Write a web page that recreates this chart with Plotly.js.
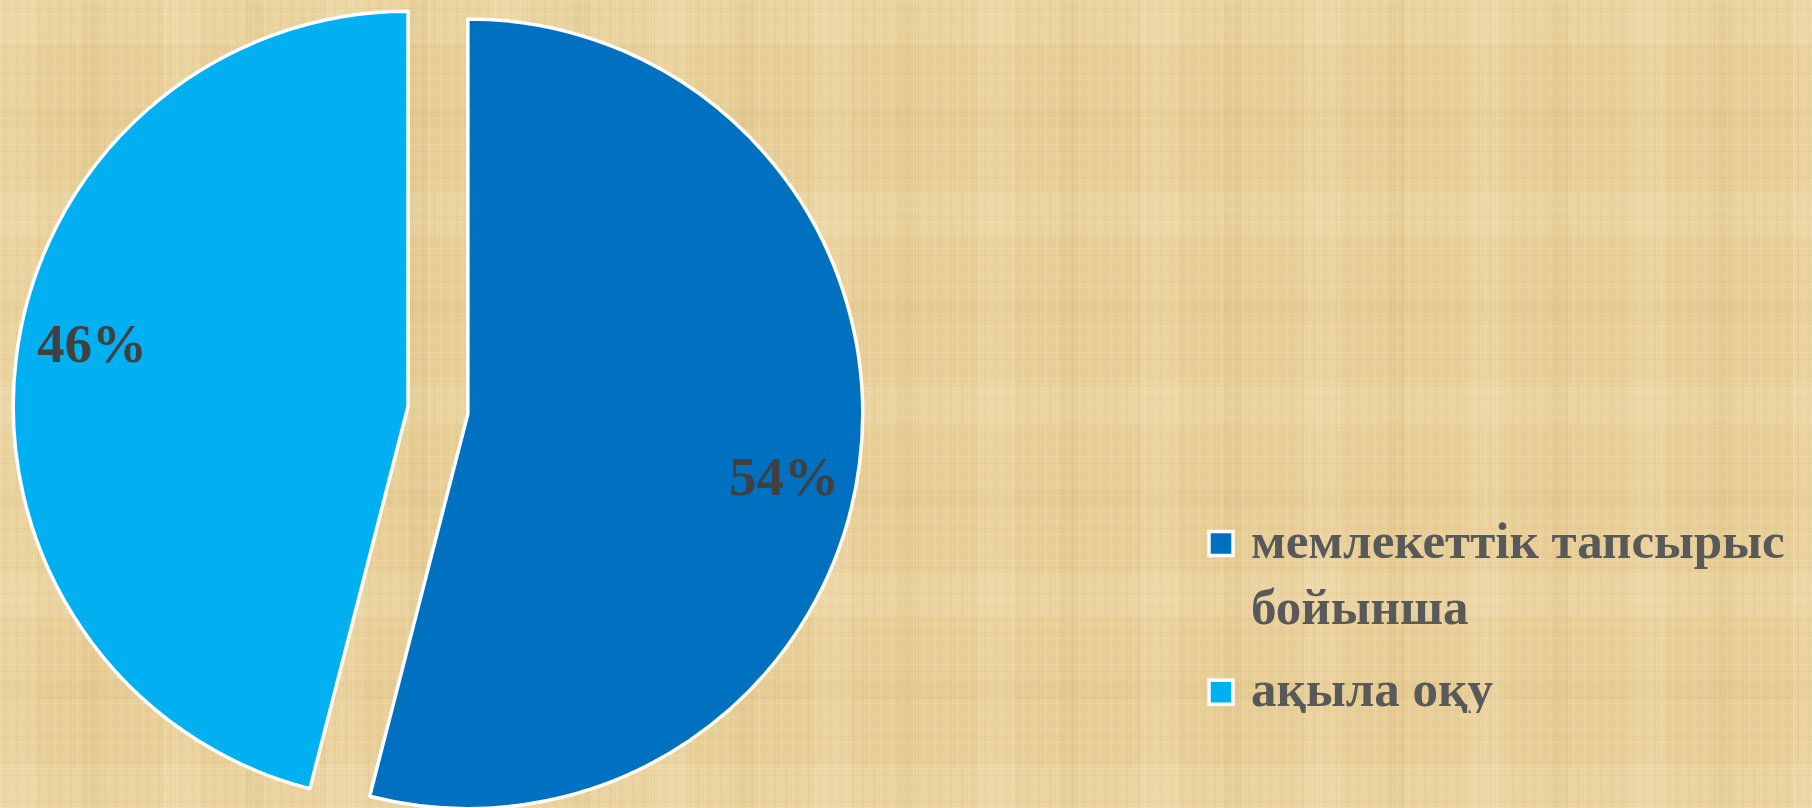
<!DOCTYPE html>
<html>
<head>
<meta charset="utf-8">
<script src="https://cdn.plot.ly/plotly-3.0.1.min.js"></script>
<style>
  html, body { margin: 0; padding: 0; width: 1812px; height: 808px; overflow: hidden; }
  body {
    background-color: #e8cf98;
    background-image:
      repeating-linear-gradient(90deg, rgba(255,244,212,0.16) 0 1px, transparent 1px 5px, rgba(170,130,60,0.07) 5px 6px, transparent 6px 11px),
      repeating-linear-gradient(0deg, rgba(255,244,212,0.14) 0 1px, transparent 1px 6px, rgba(170,130,60,0.06) 6px 7px, transparent 7px 13px),
      repeating-linear-gradient(90deg, rgba(255,246,220,0.11) 0 37px, transparent 37px 83px, rgba(185,145,70,0.07) 83px 101px, transparent 101px 163px),
      repeating-linear-gradient(0deg, rgba(255,246,220,0.10) 0 44px, transparent 44px 109px, rgba(185,145,70,0.06) 109px 127px, transparent 127px 191px);
  }
  #chart { position: absolute; left: 0; top: -15px; width: 1812px; height: 850px; }
  #chart .legend path.legendpie { d: path("M7,18H-17V-6H7Z") !important; }
</style>
</head>
<body>
<div id="chart"></div>
<script>
// ---- data ----
const categories = ["мемлекеттік тапсырыс<br>бойынша", "ақыла оқу"];
const values = [54, 46];
const colors = ["#0070C0", "#00B0F0"];

// ---- layout constants ----
const W = 1812, H = 850;
const domainX = [0, 0.4834];
const pull = 0.0763;
const labelRadius = 0.815;
const labelAngleShift = 4;
const legendExtraGap = 13;

const total = values.reduce((a, b) => a + b, 0);
const cx = W * (domainX[0] + domainX[1]) / 2;
const cy = H / 2;
const r = Math.min(W * (domainX[1] - domainX[0]), H) / 2 / (1 + pull);

const annotations = [];
let cum = 0;
values.forEach((v, i) => {
  const mid = (cum + v / 2) / total * 2 * Math.PI;
  cum += v;
  const scx = cx + pull * r * Math.sin(mid);
  const scy = cy - pull * r * Math.cos(mid);
  const la = mid + labelAngleShift * Math.PI / 180;
  const px = scx + labelRadius * r * Math.sin(la);
  const py = scy - labelRadius * r * Math.cos(la);
  annotations.push({
    x: px / W, y: 1 - py / H, xref: 'paper', yref: 'paper',
    text: Math.round(v / total * 100) + '%',
    showarrow: false, xanchor: 'center', yanchor: 'middle',
    font: { family: 'Liberation Serif', size: 55, color: '#404040', weight: 'bold' }
  });
});

const trace = {
  type: 'pie',
  labels: categories,
  values: values,
  sort: false,
  direction: 'clockwise',
  rotation: 0,
  pull: values.map(() => pull),
  domain: { x: domainX, y: [0, 1] },
  marker: { colors: colors, line: { color: '#ffffff', width: 3.5 } },
  textinfo: 'none',
  hoverinfo: 'label+percent'
};

const layout = {
  width: W, height: H,
  margin: { l: 0, r: 0, t: 0, b: 0, pad: 0 },
  paper_bgcolor: 'rgba(0,0,0,0)',
  plot_bgcolor: 'rgba(0,0,0,0)',
  showlegend: true,
  legend: {
    x: 0.6628, y: 0.3965, xanchor: 'left', yanchor: 'top',
    bgcolor: 'rgba(0,0,0,0)',
    valign: 'top',
    itemwidth: 40,
    font: { family: 'Liberation Serif', size: 51, color: '#595959', weight: 'bold' }
  },
  annotations: annotations
};

Plotly.newPlot('chart', [trace], layout, { displayModeBar: false, staticPlot: true }).then(() => {
  const items = document.querySelectorAll('#chart .legend .traces');
  items.forEach((g, i) => {
    if (i === 0) return;
    const t = g.getAttribute('transform') || '';
    const m = t.match(/translate\(\s*([-\d.]+)[ ,]+([-\d.]+)\s*\)/);
    if (m) g.setAttribute('transform', 'translate(' + m[1] + ',' + (parseFloat(m[2]) + legendExtraGap * i) + ')');
  });
});
</script>
</body>
</html>
